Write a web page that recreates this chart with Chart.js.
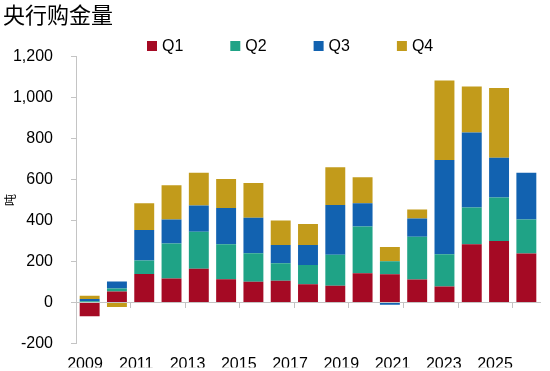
<!DOCTYPE html>
<html>
<head>
<meta charset="utf-8">
<script src="https://cdn.jsdelivr.net/npm/chart.js@4"></script>
<style>
  html, body { margin: 0; padding: 0; background: #fff; }
  #wrap { width: 550px; height: 371px; }
</style>
</head>
<body>
<div id="wrap"><canvas id="chart" width="550" height="371"></canvas></div>
<script>
// --- Data (tonnes per quarter) ---
const years = ['2009', '2010', '2011', '2012', '2013', '2014', '2015', '2016', '2017',
  '2018', '2019', '2020', '2021', '2022', '2023', '2024', '2025'];
const yearLabels = ['2009', '2011', '2013', '2015', '2017', '2019', '2021', '2023', '2025'];
const q1 = [-68, 53, 138, 117, 164, 113, 101, 106, 88, 81, 142, 137, 112, 77, 284, 300, 238];
const q2 = [6, 15, 66, 170, 181, 171, 139, 85, 95, 151, 228, 64, 208, 158, 179, 212, 167];
const q3 = [10, 34, 149, 118, 128, 176, 173, 89, 97, 243, 114, -12, 89, 460, 366, 194, 227];
const q4 = [16, -22, 131, 166, 159, 142, 169, 120, 103, 184, 126, 69, 44, 387, 224, 340, 0];

const FONT = '"Liberation Sans", Arial, sans-serif';
const CJK = '"Noto Sans CJK SC", sans-serif';
const AXIS = '#c4c4c4';

// legend drawn by hand so the spacing matches the original
const quarterLegend = {
  id: 'quarterLegend',
  afterDraw(chart) {
    const ctx = chart.ctx;
    ctx.save();
    ctx.font = '16px ' + FONT;
    ctx.textBaseline = 'middle';
    chart.data.datasets.forEach((ds, i) => {
      const x = 147 + i * 83.3;
      ctx.fillStyle = ds.backgroundColor;
      ctx.fillRect(x, 41, 10, 10);
      ctx.fillStyle = '#000';
      ctx.fillText(ds.label, x + 15, 46.5);
    });
    ctx.restore();
  }
};

const mk = (label, data, color) => ({
  label, data, backgroundColor: color, borderWidth: 0,
  barPercentage: 0.73, categoryPercentage: 1
});

new Chart(document.getElementById('chart'), {
  type: 'bar',
  data: {
    labels: years,
    datasets: [
      mk('Q1', q1, '#a50a24'),
      mk('Q2', q2, '#1fa386'),
      mk('Q3', q3, '#1262b0'),
      mk('Q4', q4, '#c29b1b')
    ]
  },
  options: {
    responsive: false,
    animation: false,
    devicePixelRatio: 1,
    layout: { padding: { left: 3, right: 10, top: 0, bottom: 0 } },
    plugins: {
      legend: { display: false },
      tooltip: { enabled: false },
      title: {
        display: true,
        text: '央行购金量',
        align: 'start',
        color: '#000',
        font: { family: CJK, size: 22, weight: 'normal' },
        padding: { top: 1, bottom: 29 }
      }
    },
    scales: {
      x: {
        stacked: true,
        position: { y: 0 },
        ticks: { display: false, autoSkip: false },
        grid: {
          drawOnChartArea: false,
          tickLength: 5,
          color: (c) => (c.index > 0 && c.index % 2 === 0) ? AXIS : 'rgba(0,0,0,0)'
        },
        border: { color: AXIS }
      },
      // label-only axis: the year labels sit on their own even spacing
      x2: {
        type: 'linear',
        position: 'bottom',
        offset: false,
        min: -0.1756,
        max: 8.878,
        afterBuildTicks: (s) => { s.ticks = yearLabels.map((_, i) => ({ value: i })); },
        afterFit: (s) => { s.height = 24; },
        ticks: {
          autoSkip: false,
          maxRotation: 0,
          padding: 12,
          color: '#000',
          font: { family: FONT, size: 16 },
          callback: (v) => yearLabels[v]
        },
        grid: { display: false, drawTicks: false, offset: false },
        border: { display: false }
      },
      y: {
        stacked: true,
        min: -200,
        max: 1200,
        afterFit: (s) => { s.width = 73; },
        ticks: {
          stepSize: 200,
          padding: 18,
          color: '#000',
          font: { family: FONT, size: 16 },
          callback: (v) => v.toLocaleString('en-US')
        },
        grid: { drawOnChartArea: false, tickLength: 5, color: AXIS },
        border: { color: AXIS },
        title: {
          display: true,
          text: '吨',
          color: '#000',
          font: { family: CJK, size: 12 },
          padding: { top: 0, bottom: 0 }
        }
      }
    }
  },
  plugins: [quarterLegend]
});
</script>
</body>
</html>
